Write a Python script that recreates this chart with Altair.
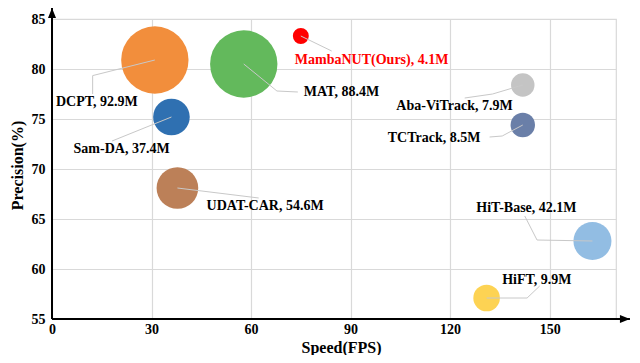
import altair as alt
import pandas as pd

# ---- data ----
names = ["DCPT", "MAT", "MambaNUT(Ours)", "Sam-DA", "UDAT-CAR",
         "Aba-ViTrack", "TCTrack", "HiT-Base", "HiFT"]
speed = [31.0, 57.8, 75.0, 36.0, 37.8, 141.9, 141.9, 162.9, 131.0]
precision = [80.9, 80.5, 83.3, 75.2, 68.1, 78.4, 74.4, 62.8, 57.1]
params = [92.9, 88.4, 4.1, 37.4, 54.6, 7.9, 8.5, 42.1, 9.9]

# label anchors (left edge, vertical centre) in data units
label_x = [1.2, 75.9, 73.2, 6.5, 46.6, 103.8, 101.2, 127.9, 135.7]
label_y = [76.7, 77.7, 80.9, 72.0, 66.3, 76.3, 73.1, 66.1, 58.9]

# leader-line bend / end points (after the bubble centre), data units
leader_x = [[12.25, 12.25], [67.8, 74.1], [84.3], [18.1], [62.3],
            [132.8, 124.4], [135.7, 131.9], [146.2, 142.5], [143.2, 147.0]]
leader_y = [[79.34, 77.5], [77.8, 77.7], [81.8], [72.8], [67.1],
            [77.5, 77.1], [73.3, 73.2], [62.9, 65.3], [57.1, 58.3]]

x_ticks = [0, 30, 60, 90, 120, 150]
y_ticks = [55, 60, 65, 70, 75, 80, 85]
x_domain = [0, 170]
y_domain = [55, 85]
x_arrow_end = 174.2
y_arrow_end = 86.1

# ---- styles ----
colors = ["#F28E3C", "#63B95C", "#FF0000", "#2F70B1", "#BC8058",
          "#C4C4C4", "#6A7FA8", "#92BDE3", "#FDD353"]
FONT = "Liberation Serif"

bubbles_df = pd.DataFrame({"name": names, "x": speed, "y": precision, "params": params})
labels_df = pd.DataFrame({
    "name": names, "x": label_x, "y": label_y,
    "label": [f"{n}, {p}M" for n, p in zip(names, params)],
})
rows = []
for i, n in enumerate(names):
    rows.append({"name": n, "seq": 0, "x": speed[i], "y": precision[i]})
    for k, (lx, ly) in enumerate(zip(leader_x[i], leader_y[i])):
        rows.append({"name": n, "seq": k + 1, "x": lx, "y": ly})
leader_df = pd.DataFrame(rows)

axes_df = pd.DataFrame({
    "x": [x_domain[0], x_domain[0]], "y": [y_domain[0], y_domain[0]],
    "x2": [x_domain[0], x_arrow_end], "y2": [y_arrow_end, y_domain[0]],
})
head_up = pd.DataFrame({"x": [x_domain[0]], "y": [y_arrow_end]})
head_right = pd.DataFrame({"x": [x_arrow_end], "y": [y_domain[0]]})

xs = alt.Scale(domain=x_domain, nice=False, zero=False)
ys = alt.Scale(domain=y_domain, nice=False, zero=False)
X = alt.X("x:Q", scale=xs, axis=alt.Axis(
    values=x_ticks, title="Speed(FPS)", labelPadding=3,
    titleX=289, titleY=33, titleBaseline="alphabetic", titleAlign="center"))
Y = alt.Y("y:Q", scale=ys, axis=alt.Axis(
    values=y_ticks, title="Precision(%)", labelPadding=7,
    titleX=-30, titleY=146, titleAngle=270, titleBaseline="alphabetic",
    titleAlign="center"))

bubbles = alt.Chart(bubbles_df).mark_circle(opacity=1, strokeWidth=0).encode(
    x=X, y=Y,
    size=alt.Size("params:Q", legend=None,
                  scale=alt.Scale(domain=[4.1, 9.9, 54.6, 88.4],
                                  range=[254, 707, 1735, 4536], clamp=True)),
    color=alt.Color("name:N", legend=None,
                    scale=alt.Scale(domain=names, range=colors)),
)

leaders = alt.Chart(leader_df).mark_line(color="#C8C8C8", strokeWidth=1).encode(
    x=X, y=Y, detail="name:N", order="seq:Q")

labels = alt.Chart(labels_df).mark_text(
    align="left", baseline="middle", font=FONT, fontWeight="bold", fontSize=14
).encode(
    x=X, y=Y, text="label:N",
    color=alt.condition(alt.datum.name == "MambaNUT(Ours)",
                        alt.value("#FF0000"), alt.value("black")),
)

axis_lines = alt.Chart(axes_df).mark_rule(color="black", strokeWidth=2).encode(
    x=X, y=Y, x2="x2:Q", y2="y2:Q")

arrow_up = alt.Chart(head_up).mark_point(
    shape="M0,0L0.8,2L-0.8,2Z", filled=True, color="black", opacity=1,
    size=100, strokeWidth=0).encode(x=X, y=Y)
arrow_right = alt.Chart(head_right).mark_point(
    shape="M0,0L-2,-0.8L-2,0.8Z", filled=True, color="black", opacity=1,
    size=100, strokeWidth=0).encode(x=X, y=Y)

chart = alt.layer(bubbles, leaders, labels, axis_lines, arrow_up, arrow_right).properties(
    width=564, height=300,
    autosize=alt.AutoSizeParams(type="none"),
    padding={"left": 44, "top": 11, "right": 16, "bottom": 36},
).configure_view(
    stroke="#D9D9D9", strokeWidth=1.2
).configure_axis(
    domain=False, ticks=False, grid=True, gridColor="#D9D9D9", gridWidth=1.2,
    labelFont=FONT, labelFontWeight="bold", labelFontSize=14, labelColor="black",
    titleFont=FONT, titleFontWeight="bold", titleFontSize=16, titleColor="black",
    labelFlush=False,
)

chart.save("out.html", embed_options={"renderer": "svg", "actions": False})
